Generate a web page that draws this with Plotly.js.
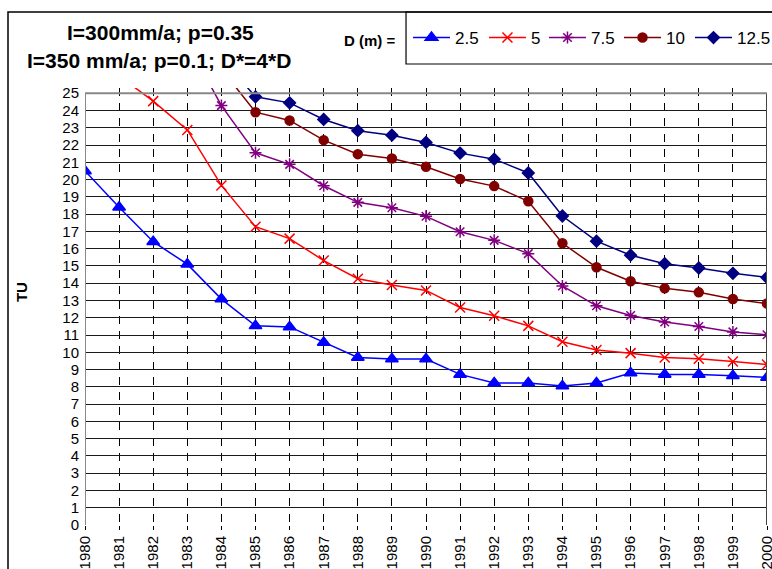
<!DOCTYPE html>
<html>
<head>
<meta charset="utf-8">
<script src="https://cdn.plot.ly/plotly-3.0.1.min.js"></script>
<style>html,body{margin:0;padding:0;background:#fff;}#chart{width:772px;height:569px;}</style>
</head>
<body>
<div id="chart"></div>
<script>
// ---- data ----
const years = [1980,1981,1982,1983,1984,1985,1986,1987,1988,1989,1990,1991,1992,1993,1994,1995,1996,1997,1998,1999,2000];
const yearLabels = years.map(String);
const seriesNames = ['2.5','5','7.5','10','12.5'];
const tu_D2_5  = [20.5,18.4,16.4,15.1,13.08,11.53,11.47,10.57,9.7,9.61,9.61,8.72,8.22,8.22,8.05,8.22,8.8,8.72,8.72,8.64,8.54];
const tu_D5    = [null,26.0,24.54,22.87,19.66,17.27,16.58,15.31,14.26,13.9,13.58,12.59,12.11,11.53,10.61,10.13,9.95,9.7,9.62,9.47,9.29];
const tu_D7_5  = [null,null,null,27.9,24.28,21.55,20.88,19.64,18.68,18.37,17.87,16.98,16.48,15.71,13.84,12.69,12.13,11.75,11.49,11.18,11.01];
const tu_D10   = [null,null,null,null,26.4,23.9,23.42,22.28,21.47,21.22,20.74,20.03,19.62,18.74,16.31,14.92,14.11,13.7,13.47,13.08,12.82];
const tu_D12_5 = [null,null,null,null,27.05,24.79,24.44,23.48,22.83,22.57,22.15,21.53,21.18,20.38,17.89,16.43,15.62,15.13,14.88,14.57,14.33];
const yTicks = [0,1,2,3,4,5,6,7,8,9,10,11,12,13,14,15,16,17,18,19,20,21,22,23,24,25];

const FONT = 'Liberation Sans, Arial, sans-serif';
const legendIds = ['legend','legend2','legend3','legend4','legend5'];
const legendX = [0.4736, 0.5850, 0.6730, 0.7830, 0.8871];

function tr(i, ys, color, symbol, size){
  return {
    x: years, y: ys, name: seriesNames[i], type: 'scatter', mode: 'lines+markers',
    legend: legendIds[i],
    connectgaps: false,
    line: {color: color, width: 1.5},
    marker: {symbol: symbol, size: size, color: color, line: {color: color, width: 1.5}}
  };
}
const data = [
  tr(0, tu_D2_5, '#0000FF', 'triangle-up', 11),
  tr(1, tu_D5, '#FF0000', 'x-thin-open', 10),
  tr(2, tu_D7_5, '#800080', 'asterisk-open', 10),
  tr(3, tu_D10, '#800000', 'circle', 9),
  tr(4, tu_D12_5, '#000080', 'diamond', 9)
];

const layout = {
  width: 772, height: 569,
  margin: {l: 85, r: 5, t: 88, b: 44, pad: 0, autoexpand: false},
  paper_bgcolor: '#fff', plot_bgcolor: '#fff',
  font: {family: FONT, color: '#000', size: 15},
  showlegend: true,
  xaxis: {
    range: [1980, 2000], tickmode: 'array', tickvals: years, ticktext: yearLabels,
    tickangle: -90, ticks: 'outside', ticklen: 4, tickcolor: '#000', tickwidth: 1,
    ticklabeloverflow: 'allow',
    showgrid: true, gridcolor: '#000', gridwidth: 1, griddash: '8px,7.2px',
    zeroline: false, showline: false, automargin: false,
    tickfont: {family: FONT, size: 15, color: '#000'}
  },
  yaxis: {
    range: [0, 25.3], tickmode: 'array', tickvals: yTicks, ticktext: yTicks.map(String),
    ticks: '', ticklabelstandoff: 5, showgrid: true, gridcolor: '#1a1a1a', gridwidth: 1,
    zeroline: false, showline: false, automargin: false,
    tickfont: {family: FONT, size: 15, color: '#000'}
  },
  shapes: [
    {type: 'line', xref: 'x', yref: 'y', x0: 1980, x1: 1980, y0: 0, y1: 25, line: {color: '#888', width: 2}},
    {type: 'line', xref: 'x', yref: 'y', x0: 2000, x1: 2000, y0: 0, y1: 25, line: {color: '#444', width: 2}},
    {type: 'line', xref: 'x', yref: 'y', x0: 1980, x1: 2000, y0: 25, y1: 25, line: {color: '#888', width: 2}},
    {type: 'rect', xref: 'paper', yref: 'paper', x0: -0.1129, x1: 1.05, y0: -0.3, y1: 1.1739, line: {color: '#000', width: 1.5}, layer: 'above'},
    {type: 'rect', xref: 'paper', yref: 'paper', x0: 0.4707, x1: 1.05, y0: 1.0549, y1: 1.1739, line: {color: '#000', width: 1.2}, layer: 'above'}
  ],
  annotations: [
    {text: '<b>I=300mm/a; p=0.35</b>', xref: 'paper', yref: 'paper', x: 0.110, y: 1.127, xanchor: 'center', yanchor: 'middle', showarrow: false, font: {family: FONT, size: 21, color: '#000'}},
    {text: '<b>I=350 mm/a; p=0.1; D*=4*D</b>', xref: 'paper', yref: 'paper', x: 0.1085, y: 1.0618, xanchor: 'center', yanchor: 'middle', showarrow: false, font: {family: FONT, size: 21, color: '#000'}},
    {text: '<b>D (m) =</b>', xref: 'paper', yref: 'paper', x: 0.4575, y: 1.1082, xanchor: 'right', yanchor: 'middle', showarrow: false, font: {family: FONT, size: 15, color: '#000'}},
    {text: '<b>TU</b>', xref: 'paper', yref: 'paper', x: -0.0938, y: 0.533, xanchor: 'center', yanchor: 'middle', textangle: -90, showarrow: false, font: {family: FONT, size: 15, color: '#000'}}
  ]
};
legendIds.forEach(function(id, i){
  layout[id] = {
    orientation: 'h', x: legendX[i], xanchor: 'left', y: 1.1144, yanchor: 'middle',
    font: {family: FONT, size: 17, color: '#000'},
    bgcolor: 'rgba(0,0,0,0)', borderwidth: 0, itemwidth: 37
  };
});

Plotly.newPlot('chart', data, layout, {displayModeBar: false, staticPlot: true});
</script>
</body>
</html>
